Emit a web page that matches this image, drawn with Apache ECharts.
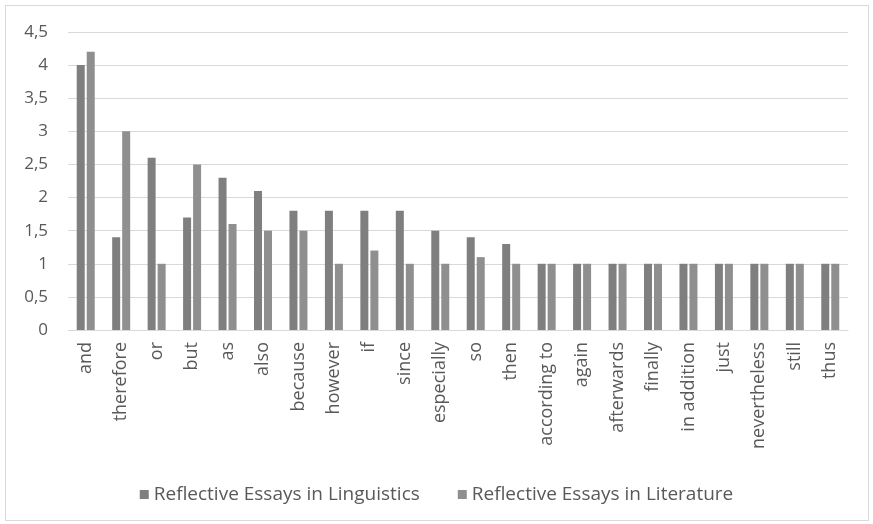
<!DOCTYPE html>
<html>
<head>
<meta charset="utf-8">
<script src="https://cdn.jsdelivr.net/npm/echarts@6/dist/echarts.min.js"></script>
<style>
  html, body { margin: 0; padding: 0; background: #fff; }
  #frame { position: absolute; left: 5px; top: 5px; width: 862px; height: 514px; border: 1px solid #d9d9d9; }
  #chart { position: absolute; left: 0; top: 0; width: 873px; height: 524px; }
</style>
</head>
<body>
<div id="frame"></div>
<div id="chart"></div>
<script>
  // connectives, frequency per essay
  var categories = ['and', 'therefore', 'or', 'but', 'as', 'also', 'because', 'however', 'if', 'since',
    'especially', 'so', 'then', 'according to', 'again', 'afterwards', 'finally', 'in addition',
    'just', 'nevertheless', 'still', 'thus'];
  var linguistics = [4, 1.4, 2.6, 1.7, 2.3, 2.1, 1.8, 1.8, 1.8, 1.8, 1.5, 1.4, 1.3, 1, 1, 1, 1, 1, 1, 1, 1, 1];
  var literature = [4.2, 3, 1, 2.5, 1.6, 1.5, 1.5, 1, 1.2, 1, 1, 1.1, 1, 1, 1, 1, 1, 1, 1, 1, 1, 1];
  var seriesNames = ['Reflective Essays in Linguistics', 'Reflective Essays in Literature'];

  var myChart = echarts.init(document.getElementById('chart'));
  var fontFam = 'Open Sans';

  var option = {
    animation: false,
    color: ['#7f7f7f', '#8f8f8f'],
    legend: {
      data: seriesNames,
      top: 480,
      left: 'center',
      itemWidth: 9,
      itemHeight: 9,
      itemGap: 38,
      icon: 'rect',
      textStyle: { color: '#595959', fontSize: 19, fontFamily: fontFam }
    },
    grid: {
      left: 68,
      right: 25,
      top: 32,
      bottom: 194
    },
    xAxis: {
      type: 'category',
      data: categories,
      axisLine: { lineStyle: { color: '#d9d9d9', width: 1 } },
      axisTick: { show: false },
      axisLabel: {
        interval: 0,
        rotate: 90,
        color: '#595959',
        fontSize: 18,
        fontFamily: fontFam,
        margin: 12
      }
    },
    yAxis: {
      type: 'value',
      min: 0,
      max: 4.5,
      interval: 0.5,
      axisLine: { show: false },
      axisTick: { show: false },
      splitLine: { lineStyle: { color: '#d9d9d9', width: 1 } },
      axisLabel: {
        color: '#595959',
        fontSize: 17,
        fontFamily: fontFam,
        margin: 20,
        formatter: function (v) { return String(v).replace('.', ','); }
      }
    },
    series: [
      {
        name: seriesNames[0],
        type: 'bar',
        data: linguistics,
        barWidth: 8,
        barGap: '25%',
        itemStyle: { color: '#7f7f7f' }
      },
      {
        name: seriesNames[1],
        type: 'bar',
        data: literature,
        barWidth: 8,
        itemStyle: { color: '#8f8f8f' }
      }
    ]
  };

  option && myChart.setOption(option);
</script>
</body>
</html>
